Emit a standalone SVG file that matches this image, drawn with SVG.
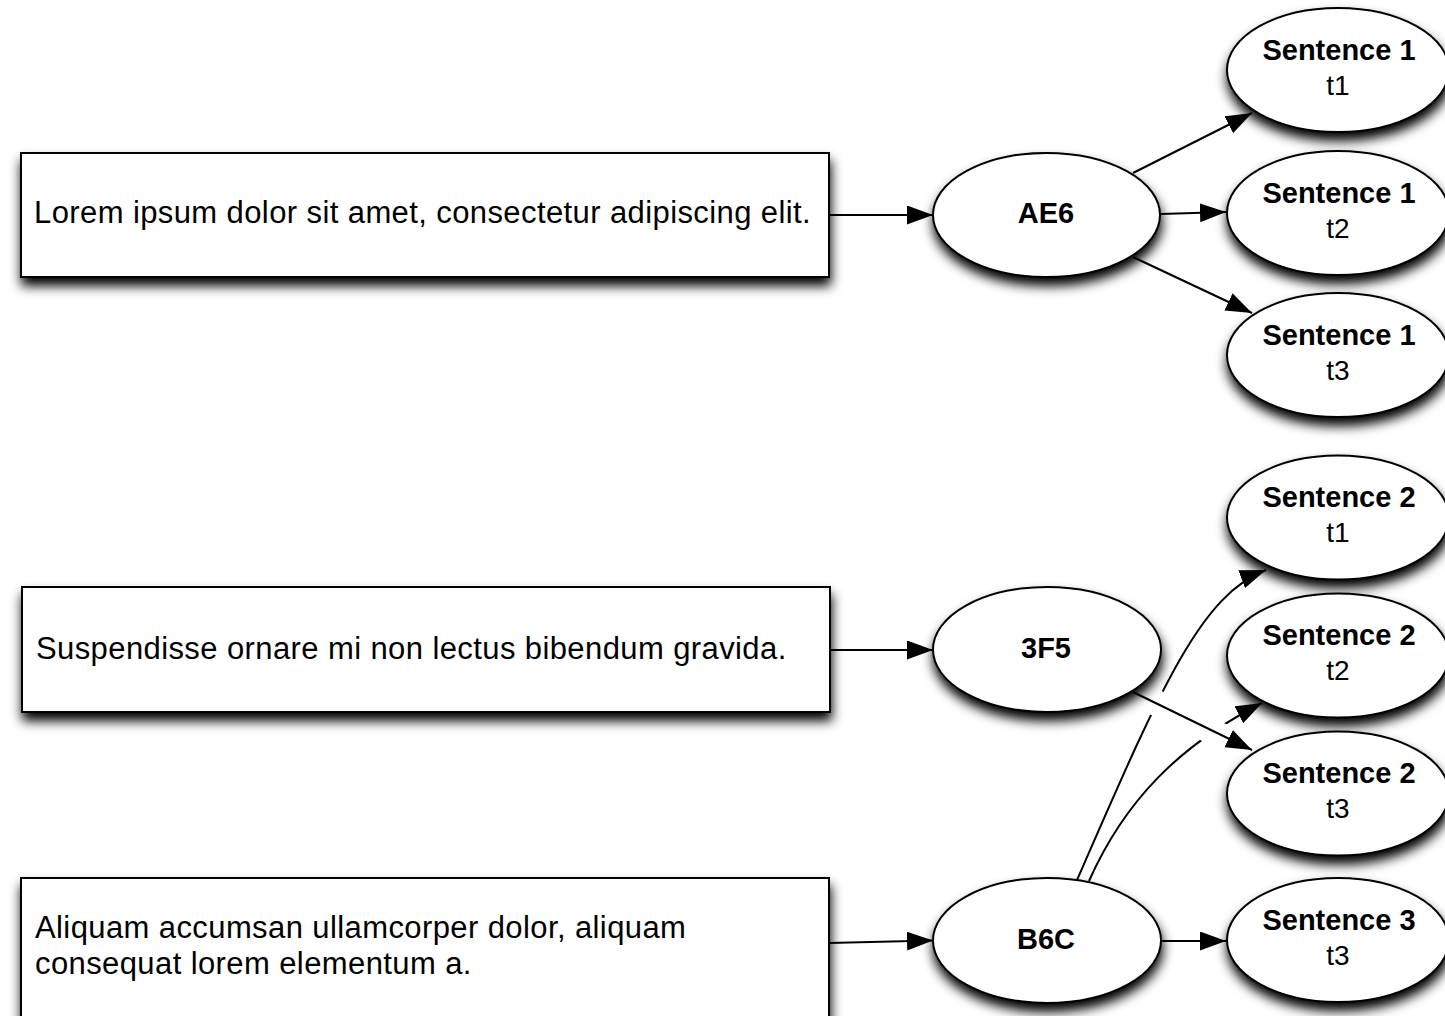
<svg xmlns="http://www.w3.org/2000/svg" width="1445" height="1016" viewBox="0 0 1445 1016">
  <style>
    .box { fill: #fff; stroke: #000; stroke-width: 2; filter: url(#shadow); }
    .oval { fill: #fff; stroke: #000; stroke-width: 2; filter: url(#shadow); }
    .txt { font-family: "Liberation Sans", Arial, Helvetica, sans-serif; font-size: 31px; letter-spacing: 0.4px; fill: #000; }
    .lbl { font-family: "Liberation Sans", Arial, Helvetica, sans-serif; font-size: 28px; fill: #000; text-anchor: middle; }
    .b { font-weight: bold; font-size: 29px; }
    .edge { fill: none; stroke: #000; stroke-width: 2; marker-end: url(#arrow); }
  </style>
  <defs>
    <filter id="shadow" x="-20%" y="-30%" width="140%" height="180%">
      <feGaussianBlur in="SourceAlpha" stdDeviation="6"/>
      <feOffset dx="1" dy="8" result="blur"/>
      <feComponentTransfer><feFuncA type="linear" slope="1"/></feComponentTransfer>
      <feMerge><feMergeNode/><feMergeNode in="SourceGraphic"/></feMerge>
    </filter>
    <marker id="arrow" markerUnits="userSpaceOnUse" markerWidth="28" markerHeight="20" refX="26" refY="9.5" orient="auto">
      <path d="M0,0 L26,9.5 L0,19 Z" fill="#000"/>
    </marker>
    <!-- line hop: the B6C curves break where they cross the 3F5 edge -->
    <mask id="hop" maskUnits="userSpaceOnUse" x="0" y="0" width="1445" height="1016">
      <rect x="0" y="0" width="1445" height="1016" fill="#fff"/>
      <line x1="1140" y1="694.6" x2="1236" y2="743.8" stroke="#000" stroke-width="26"/>
    </mask>
  </defs>

  <rect width="1445" height="1016" fill="#fff"/>

  <!-- connectors -->
  <g id="connectors">
    <line class="edge" x1="829" y1="215" x2="933" y2="215"/>
    <line class="edge" x1="1133" y1="173" x2="1252" y2="113"/>
    <line class="edge" x1="1161" y1="214" x2="1226" y2="212"/>
    <line class="edge" x1="1133" y1="257" x2="1252" y2="313"/>
    <line class="edge" x1="830" y1="650" x2="933" y2="650"/>
    <line class="edge" x1="1133" y1="692" x2="1252" y2="750"/>
    <line class="edge" x1="829" y1="943" x2="933" y2="940.5"/>
    <line class="edge" x1="1161" y1="941" x2="1226" y2="941"/>
    <g mask="url(#hop)">
      <path class="edge" d="M1077,880 C1160,690 1200,595 1266,570"/>
      <path class="edge" d="M1089,881 C1125,800 1180,745 1262,703"/>
    </g>
  </g>

  <!-- sentence boxes -->
  <g id="box-lorem">
    <rect class="box" x="21" y="153" width="808" height="124"/>
    <text class="txt" x="34" y="223">Lorem ipsum dolor sit amet, consectetur adipiscing elit.</text>
  </g>
  <g id="box-suspendisse">
    <rect class="box" x="22" y="587" width="808" height="125"/>
    <text class="txt" x="36" y="659">Suspendisse ornare mi non lectus bibendum gravida.</text>
  </g>
  <g id="box-aliquam">
    <rect class="box" x="21" y="878" width="808" height="160"/>
    <text class="txt" x="35" y="938">Aliquam accumsan ullamcorper dolor, aliquam</text>
    <text class="txt" x="35" y="974">consequat lorem elementum a.</text>
  </g>

  <!-- hash nodes -->
  <g id="node-AE6">
    <ellipse class="oval" cx="1046.5" cy="215" rx="113.5" ry="62"/>
    <text class="lbl b" x="1046" y="223">AE6</text>
  </g>
  <g id="node-3F5">
    <ellipse class="oval" cx="1047" cy="649.5" rx="114" ry="62.5"/>
    <text class="lbl b" x="1046" y="658">3F5</text>
  </g>
  <g id="node-B6C">
    <ellipse class="oval" cx="1047" cy="940.5" rx="114" ry="62.5"/>
    <text class="lbl b" x="1046" y="949">B6C</text>
  </g>

  <!-- token nodes -->
  <g id="node-s1-t1">
    <ellipse class="oval" cx="1338" cy="70" rx="111" ry="62"/>
    <text class="lbl b" x="1339" y="60">Sentence 1</text>
    <text class="lbl" x="1338" y="95">t1</text>
  </g>
  <g id="node-s1-t2">
    <ellipse class="oval" cx="1338" cy="213" rx="111" ry="62"/>
    <text class="lbl b" x="1339" y="203">Sentence 1</text>
    <text class="lbl" x="1338" y="238">t2</text>
  </g>
  <g id="node-s1-t3">
    <ellipse class="oval" cx="1338" cy="355" rx="111" ry="62"/>
    <text class="lbl b" x="1339" y="345">Sentence 1</text>
    <text class="lbl" x="1338" y="380">t3</text>
  </g>
  <g id="node-s2-t1">
    <ellipse class="oval" cx="1338" cy="517.5" rx="111" ry="62"/>
    <text class="lbl b" x="1339" y="507">Sentence 2</text>
    <text class="lbl" x="1338" y="542">t1</text>
  </g>
  <g id="node-s2-t2">
    <ellipse class="oval" cx="1338" cy="655.5" rx="111" ry="62"/>
    <text class="lbl b" x="1339" y="645">Sentence 2</text>
    <text class="lbl" x="1338" y="680">t2</text>
  </g>
  <g id="node-s2-t3">
    <ellipse class="oval" cx="1338" cy="793.5" rx="111" ry="62"/>
    <text class="lbl b" x="1339" y="783">Sentence 2</text>
    <text class="lbl" x="1338" y="818">t3</text>
  </g>
  <g id="node-s3-t3">
    <ellipse class="oval" cx="1338" cy="940" rx="111" ry="62"/>
    <text class="lbl b" x="1339" y="930">Sentence 3</text>
    <text class="lbl" x="1338" y="965">t3</text>
  </g>
</svg>
